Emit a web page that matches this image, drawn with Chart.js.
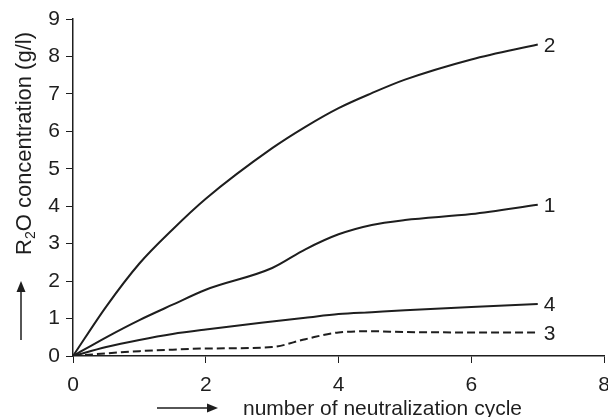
<!DOCTYPE html>
<html>
<head>
<meta charset="utf-8">
<script src="https://cdn.jsdelivr.net/npm/chart.js@4/dist/chart.umd.min.js"></script>
<style>
  html, body { margin: 0; padding: 0; background: #fff; overflow: hidden; width: 608px; height: 417px; }
  #wrap { width: 620px; height: 417px; }
</style>
</head>
<body>
<div id="wrap"><canvas id="chart" width="620" height="417"></canvas></div>
<script>
"use strict";

var cycles = [0, 0.5, 1, 1.5, 2, 3, 3.5, 4, 4.5, 5, 6, 7];
// R2O concentration, g/l
var curve1 = [0, 0.5, 0.96, 1.37, 1.77, 2.35, 2.85, 3.25, 3.5, 3.63, 3.79, 4.04];
var curve2 = [0, 1.32, 2.47, 3.38, 4.2, 5.55, 6.12, 6.62, 7.02, 7.38, 7.92, 8.32];
var curve3 = [0, 0.07, 0.13, 0.17, 0.2, 0.24, 0.45, 0.63, 0.66, 0.64, 0.63, 0.63];
var curve4 = [0, 0.24, 0.43, 0.59, 0.71, 0.92, 1.02, 1.12, 1.17, 1.22, 1.31, 1.39];
var curveNames = ["1", "2", "3", "4"];

var FONT = "'Liberation Sans', Arial, sans-serif";
var INK = "#1e1e1e";

function toPoints(vals) {
    return cycles.map(function (c, i) { return { x: c, y: vals[i] }; });
}

function makeSet(name, vals, dashed) {
    return {
        label: name,
        data: toPoints(vals),
        borderColor: INK,
        borderWidth: 2,
        borderDash: dashed ? [8, 4] : [],
        pointRadius: 0,
        fill: false,
        cubicInterpolationMode: "monotone"
    };
}

// end labels, arrows and axis titles
var annotations = {
    id: "annotations",
    afterDraw: function (chart) {
        var ctx = chart.ctx;
        var xs = chart.scales.x, ys = chart.scales.y;
        ctx.save();
        ctx.fillStyle = INK;
        ctx.strokeStyle = INK;

        // curve numbers at the line ends
        ctx.font = "21px " + FONT;
        ctx.textAlign = "left";
        ctx.textBaseline = "middle";
        chart.data.datasets.forEach(function (ds) {
            var last = ds.data[ds.data.length - 1];
            ctx.fillText(ds.label, xs.getPixelForValue(last.x) + 6, ys.getPixelForValue(last.y) + 1.5);
        });

        // x title + arrow
        ctx.textBaseline = "alphabetic";
        ctx.fillText("number of neutralization cycle", 243, 415);
        ctx.lineWidth = 1.5;
        ctx.beginPath();
        ctx.moveTo(157, 408);
        ctx.lineTo(208, 408);
        ctx.stroke();
        ctx.beginPath();
        ctx.moveTo(218, 408);
        ctx.lineTo(207, 403.5);
        ctx.lineTo(207, 412.5);
        ctx.closePath();
        ctx.fill();

        // y arrow
        ctx.beginPath();
        ctx.moveTo(21, 340);
        ctx.lineTo(21, 290);
        ctx.stroke();
        ctx.beginPath();
        ctx.moveTo(21, 281);
        ctx.lineTo(16.5, 292);
        ctx.lineTo(25.5, 292);
        ctx.closePath();
        ctx.fill();

        // y title, rotated, with subscript 2
        ctx.translate(31, 255);
        ctx.rotate(-Math.PI / 2);
        var x = 0;
        ctx.font = "22px " + FONT;
        ctx.fillText("R", x, 0);
        x += ctx.measureText("R").width;
        ctx.font = "14px " + FONT;
        ctx.fillText("2", x, 4);
        x += ctx.measureText("2").width;
        ctx.font = "22px " + FONT;
        ctx.fillText("O concentration (g/l)", x, 0);
        ctx.restore();
    }
};

new Chart(document.getElementById("chart"), {
    type: "line",
    data: {
        datasets: [
            makeSet(curveNames[0], curve1, false),
            makeSet(curveNames[1], curve2, false),
            makeSet(curveNames[2], curve3, true),
            makeSet(curveNames[3], curve4, false)
        ]
    },
    options: {
        responsive: false,
        animation: false,
        layout: { padding: { top: 19, right: 6, bottom: 0, left: 0 } },
        plugins: {
            legend: { display: false },
            tooltip: { enabled: false }
        },
        scales: {
            x: {
                type: "linear",
                min: 0,
                max: 8,
                ticks: { stepSize: 2, color: INK, padding: 10, font: { family: FONT, size: 21 } },
                grid: { drawOnChartArea: false, tickLength: 7, color: INK, lineWidth: 1 },
                border: { color: INK, width: 1.5 },
                afterFit: function (s) { s.height = 61; }
            },
            y: {
                min: 0,
                max: 9,
                ticks: { stepSize: 1, color: INK, padding: 6, font: { family: FONT, size: 21 } },
                grid: { drawOnChartArea: false, tickLength: 7, color: INK, lineWidth: 1 },
                border: { color: INK, width: 1.5 },
                afterFit: function (s) { s.width = 73; }
            }
        }
    },
    plugins: [annotations]
});
</script>
</body>
</html>
